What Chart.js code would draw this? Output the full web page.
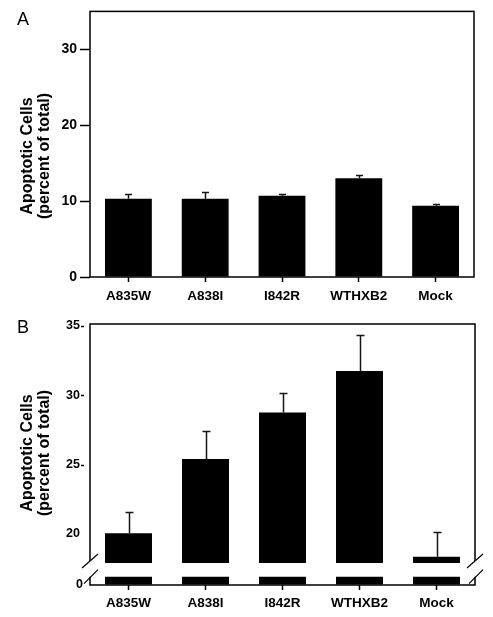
<!DOCTYPE html>
<html><head><meta charset="utf-8">
<script src="https://cdn.jsdelivr.net/npm/chart.js@4/dist/chart.umd.min.js"></script>
<style>
html,body{margin:0;padding:0;background:#fff;}
#wrap{position:relative;width:493px;height:617px;overflow:hidden;}
canvas{position:absolute;left:0;}
</style></head><body>
<div id="wrap">
<canvas id="cA" width="493" height="305" style="top:0px"></canvas>
<canvas id="cB" width="493" height="312" style="top:305px"></canvas>
</div>
<script>
// ---- data ----
const categories = ['A835W', 'A838I', 'I842R', 'WTHXB2', 'Mock'];
const valuesA = [10.3, 10.3, 10.7, 13.0, 9.4];
const errorsA = [0.6, 0.9, 0.2, 0.5, 0.2];
const ticksA = [0, 10, 20, 30];
const valuesB = [20.05, 25.4, 28.75, 31.75, 18.35];
const errorsB = [1.55, 2.0, 1.45, 2.6, 1.8];
const ticksBUpper = [20, 25, 30, 35];
const dashedTicksB = [25, 30, 35];
const ticksBLower = [0];
const breakLow = 0.6;    // top of the lower (0-based) segment
const breakHigh = 17.9;  // bottom of the upper segment
const yTitle = ['Apoptotic Cells', '(percent of total)'];
const panelLetters = ['A', 'B'];

const FONT = "'Liberation Sans', Arial, Helvetica, sans-serif";
Chart.defaults.font.family = FONT;
Chart.defaults.color = '#000';

function errorPlugin(values, errors, axisId, cap) {
  return {
    id: 'errBars_' + axisId,
    afterDatasetsDraw(chart) {
      const ctx = chart.ctx, x = chart.scales.x, y = chart.scales[axisId];
      ctx.save();
      ctx.strokeStyle = '#161616';
      ctx.lineWidth = 1.5;
      values.forEach((v, i) => {
        const px = Math.round(x.getPixelForValue(i)) + 0.5;
        const y0 = y.getPixelForValue(v);
        const y1 = Math.round(y.getPixelForValue(v + errors[i])) + 0.5;
        ctx.beginPath();
        ctx.moveTo(px, y0); ctx.lineTo(px, y1);
        ctx.moveTo(px - cap, y1); ctx.lineTo(px + cap, y1);
        ctx.stroke();
      });
      ctx.restore();
    }
  };
}

function drawTitle(ctx, cy, letter, letterY) {
  ctx.save();
  ctx.fillStyle = '#000';
  ctx.font = "normal 18px " + FONT;
  ctx.textAlign = 'left';
  ctx.textBaseline = 'alphabetic';
  ctx.fillText(letter, 17, letterY);
  ctx.font = "bold 16px " + FONT;
  ctx.textAlign = 'center';
  ctx.textBaseline = 'middle';
  [28, 45].forEach((x, k) => {
    ctx.save();
    ctx.translate(x, cy);
    ctx.rotate(-Math.PI / 2);
    ctx.fillText(yTitle[k], 0, 0);
    ctx.restore();
  });
  ctx.restore();
}

const xAxisCommon = {
  type: 'category',
  offset: true,
  border: { display: false },
  grid: { offset: false, drawOnChartArea: false, drawTicks: true, tickLength: 5, color: '#000', tickWidth: 1.5 },
  ticks: { padding: 6, font: { size: 13.5, weight: 'bold' }, color: '#000', maxRotation: 0, autoSkip: false }
};

// ---- Panel A ----
new Chart(document.getElementById('cA'), {
  type: 'bar',
  data: {
    labels: categories,
    datasets: [{ data: valuesA, backgroundColor: '#000', borderWidth: 0,
      barPercentage: 0.61, categoryPercentage: 1.0 }]
  },
  options: {
    responsive: false, animation: false, devicePixelRatio: 1,
    layout: { padding: { top: 11, right: 19, left: 0, bottom: 0 } },
    plugins: { legend: { display: false }, tooltip: { enabled: false } },
    scales: {
      x: Object.assign({}, xAxisCommon, { afterFit: s => { s.height = 28; } }),
      y: {
        type: 'linear', min: 0, max: 35,
        afterBuildTicks: s => { s.ticks = ticksA.map(v => ({ value: v })); },
        afterFit: s => { s.width = 90; },
        border: { display: false },
        grid: { drawOnChartArea: false, drawTicks: true, tickLength: 10, color: '#000', tickWidth: 1.5 },
        ticks: { padding: 3, font: { size: 14, weight: 'bold' }, color: '#000' }
      }
    }
  },
  plugins: [errorPlugin(valuesA, errorsA, 'y', 3.5), {
    id: 'frameA',
    afterDraw(chart) {
      const ctx = chart.ctx, a = chart.chartArea;
      ctx.save();
      ctx.strokeStyle = '#000'; ctx.lineWidth = 1.5;
      ctx.strokeRect(a.left, a.top, a.right - a.left, a.bottom - a.top);
      ctx.restore();
      drawTitle(ctx, 156, panelLetters[0], 25);
    }
  }]
});

// ---- Panel B (broken axis) ----
new Chart(document.getElementById('cB'), {
  type: 'bar',
  data: {
    labels: categories,
    datasets: [
      { data: valuesB.map(v => [breakHigh, v]), yAxisID: 'yUp', backgroundColor: '#000', borderWidth: 0,
        grouped: false, barPercentage: 0.61, categoryPercentage: 1.0 },
      { data: valuesB.map(() => [0, breakLow]), yAxisID: 'yLow', backgroundColor: '#000', borderWidth: 0,
        grouped: false, barPercentage: 0.61, categoryPercentage: 1.0 }
    ]
  },
  options: {
    responsive: false, animation: false, devicePixelRatio: 1,
    layout: { padding: { top: 19, right: 18, left: 0, bottom: 0 } },
    plugins: { legend: { display: false }, tooltip: { enabled: false } },
    scales: {
      x: Object.assign({}, xAxisCommon, { afterFit: s => { s.height = 32; },
        ticks: Object.assign({}, xAxisCommon.ticks, { padding: 5 }) }),
      yLow: {
        type: 'linear', position: 'left', stack: 'b', stackWeight: 15, min: 0, max: 1.08,
        afterBuildTicks: s => { s.ticks = ticksBLower.map(v => ({ value: v })); },
        afterFit: s => { s.width = 90; },
        border: { display: false },
        grid: { drawOnChartArea: false, drawTicks: false },
        ticks: { padding: 7, font: { size: 12.5, weight: 'bold' }, color: '#000' }
      },
      yUp: {
        type: 'linear', position: 'left', stack: 'b', stackWeight: 246, min: 17.4, max: 35.14,
        afterBuildTicks: s => { s.ticks = ticksBUpper.map(v => ({ value: v })); },
        afterFit: s => { s.width = 90; },
        border: { display: false },
        grid: { drawOnChartArea: false, drawTicks: false },
        ticks: { padding: 10, font: { size: 12.5, weight: 'bold' }, color: '#000' }
      }
    }
  },
  plugins: [errorPlugin(valuesB, errorsB, 'yUp', 4), {
    id: 'frameB',
    afterDraw(chart) {
      const ctx = chart.ctx, a = chart.chartArea, yU = chart.scales.yUp;
      const s1 = yU.getPixelForValue(breakHigh) - 2;
      const s2 = chart.scales.yLow.getPixelForValue(breakLow);
      ctx.save();
      ctx.strokeStyle = '#000'; ctx.lineWidth = 1.5;
      ctx.beginPath();
      ctx.moveTo(a.left, s1); ctx.lineTo(a.left, a.top); ctx.lineTo(a.right, a.top); ctx.lineTo(a.right, s1);
      ctx.moveTo(a.left, s2); ctx.lineTo(a.left, a.bottom); ctx.lineTo(a.right, a.bottom); ctx.lineTo(a.right, s2);
      ctx.stroke();
      // short tick dashes just right of the labels
      ctx.lineWidth = 1.3;
      ctx.beginPath();
      dashedTicksB.forEach(t => {
        const py = Math.round(yU.getPixelForValue(t)) + 0.5;
        ctx.moveTo(a.left - 9, py); ctx.lineTo(a.left - 6, py);
      });
      ctx.stroke();
      ctx.lineWidth = 1.2;
      ctx.beginPath();
      [a.left, a.right].forEach(x => {
        ctx.moveTo(x - 8, s1 + 7); ctx.lineTo(x + 8, s1 - 7);
        ctx.moveTo(x - 6, s2 + 7); ctx.lineTo(x + 8, s2 - 7);
      });
      ctx.stroke();
      ctx.restore();
      drawTitle(ctx, 148, panelLetters[1], 28);
    }
  }]
});
</script>
</body></html>
